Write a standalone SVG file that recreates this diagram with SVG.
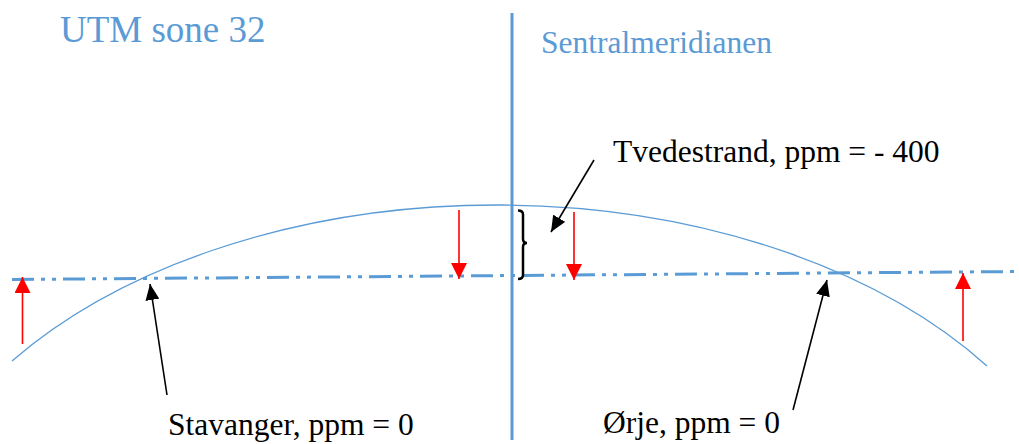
<svg xmlns="http://www.w3.org/2000/svg" width="1019" height="444" viewBox="0 0 1019 444">
<style>
.blue{fill:#5B9BD5;font-family:"Liberation Serif","Times New Roman",serif}
.black{fill:#000;font-family:"Liberation Serif","Times New Roman",serif;font-size:31.5px}
.red{stroke:#FF0000;stroke-width:1.6;fill:none}
.blk{stroke:#000;stroke-width:1.6;fill:none}
</style>
<defs>
<marker id="rh" markerUnits="userSpaceOnUse" markerWidth="16" markerHeight="16" refX="16" refY="8" orient="auto" viewBox="0 0 16 16">
<path d="M0,0 L16,8 L0,16 z" fill="#FF0000"/>
</marker>
<marker id="bh" markerUnits="userSpaceOnUse" markerWidth="16" markerHeight="14" refX="16" refY="7" orient="auto" viewBox="0 0 16 14">
<path d="M0,0 L16,7 L0,14 z" fill="#000"/>
</marker>
</defs>
<rect width="1019" height="444" fill="#fff"/>
<g id="axis">
<path d="M12 361 A600 380 0 0 1 987 366" stroke="#5B9BD5" stroke-width="1.3" fill="none"/>
<line x1="12" y1="279.5" x2="1019" y2="271.5" stroke="#5B9BD5" stroke-width="3" stroke-dasharray="22 7 4 7 4 7"/>
<line x1="512" y1="13" x2="512" y2="440" stroke="#5B9BD5" stroke-width="3"/>
</g>
<g id="connectors">
<line class="red" x1="22.5" y1="344" x2="22.5" y2="277" marker-end="url(#rh)"/>
<line class="red" x1="459" y1="210" x2="459" y2="279" marker-end="url(#rh)"/>
<line class="red" x1="574" y1="212" x2="574" y2="280" marker-end="url(#rh)"/>
<line class="red" x1="963" y1="341" x2="963" y2="273" marker-end="url(#rh)"/>
<line class="blk" x1="167" y1="395" x2="150" y2="284" marker-end="url(#bh)"/>
<line class="blk" x1="793" y1="410" x2="827" y2="280" marker-end="url(#bh)"/>
<line class="blk" x1="594" y1="160" x2="551" y2="232" marker-end="url(#bh)"/>
<path d="M518 210.5 Q523 210.5 523 214.5 L523 239 Q523 243 527 243 Q523 243 523 247 L523 275 Q523 279 518 279" stroke="#000" stroke-width="2.5" fill="none"/>
</g>
<g id="title"><text class="blue" x="60" y="42" font-size="37">UTM sone 32</text></g>
<g id="meridian"><text class="blue" x="541" y="53" font-size="31.5">Sentralmeridianen</text></g>
<g id="tvedestrand"><text class="black" x="613" y="162">Tvedestrand, ppm = - 400</text></g>
<g id="stavanger"><text class="black" x="168" y="435">Stavanger, ppm = 0</text></g>
<g id="orje"><text class="black" x="603" y="433">Ørje, ppm = 0</text></g>
</svg>
